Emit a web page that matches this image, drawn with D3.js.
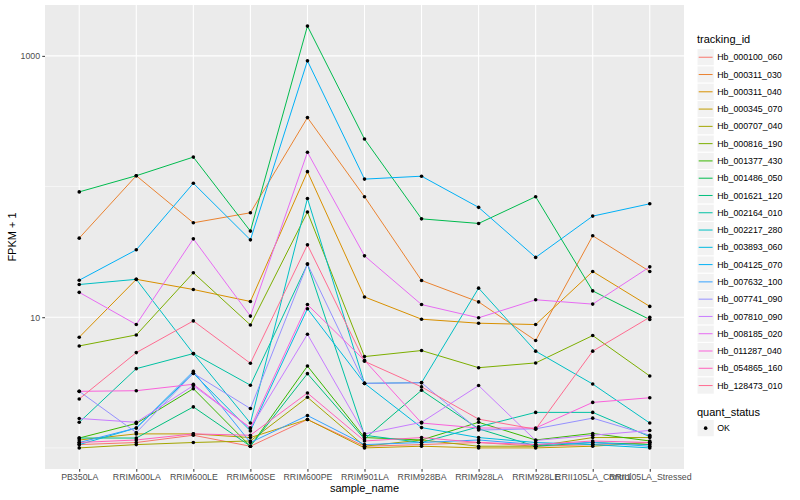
<!DOCTYPE html>
<html><head><meta charset="utf-8">
<script src="https://cdn.jsdelivr.net/npm/d3@7"></script>
<style>
body{margin:0;background:#fff}
text{font-family:"Liberation Sans",Arial,Helvetica,sans-serif}
</style>
</head><body>
<svg id="c" width="800" height="500"></svg>
<script>
// ---------- data ----------
const samples = ["PB350LA","RRIM600LA","RRIM600LE","RRIM600SE","RRIM600PE","RRIM901LA",
  "RRIM928BA","RRIM928LA","RRIM928LE","RRII105LA_Control","RRII105LA_Stressed"];
const trackingIds = ["Hb_000100_060","Hb_000311_030","Hb_000311_040","Hb_000345_070","Hb_000707_040",
  "Hb_000816_190","Hb_001377_430","Hb_001486_050","Hb_001621_120","Hb_002164_010","Hb_002217_280",
  "Hb_003893_060","Hb_004125_070","Hb_007632_100","Hb_007741_090","Hb_007810_090","Hb_008185_020",
  "Hb_011287_040","Hb_054865_160","Hb_128473_010"];
const quantStatus = ["OK"];
const yMajorTicks = [10, 1000];
const yMinorTicks = [1, 100];

// FPKM + 1 per sample, one array per tracking_id
const hb_000100_060 = [1.06, 1.10, 1.25, 1.03, 1.65, 1.03, 1.06, 1.10, 1.03, 1.06, 1.10];
const hb_000311_030 = [40.3, 121, 52.8, 63, 337, 83.6, 19.1, 13.1, 6.63, 42, 22.4];
const hb_000311_040 = [7.03, 19.5, 16.3, 13.2, 130, 14.3, 9.66, 9.0, 8.79, 22.4, 12.1];
const hb_000345_070 = [1.15, 1.28, 1.28, 1.20, 1.65, 1.00, 1.03, 1.00, 1.00, 1.03, 1.10];
const hb_000707_040 = [1.00, 1.06, 1.10, 1.13, 2.44, 1.03, 1.15, 1.03, 1.03, 1.20, 1.20];
const hb_000816_190 = [6.03, 7.32, 21.9, 8.73, 63.8, 5.0, 5.56, 4.11, 4.47, 7.24, 3.55];
const hb_001377_430 = [1.19, 1.54, 2.84, 1.03, 4.23, 1.20, 1.15, 1.57, 1.15, 1.29, 1.13];
const hb_001486_050 = [91, 121, 168, 45.6, 1690, 231, 56.6, 52.2, 83.6, 15.9, 9.6];
const hb_001621_120 = [1.19, 1.19, 2.06, 1.03, 3.70, 1.17, 2.76, 1.40, 1.03, 1.10, 1.06];
const hb_002164_010 = [1.57, 4.04, 5.27, 3.02, 25.5, 1.25, 1.10, 1.45, 1.87, 1.87, 1.22];
const hb_002217_280 = [17.8, 19.5, 5.27, 1.55, 81, 3.12, 3.16, 16.7, 5.5, 3.08, 1.55];
const hb_003893_060 = [1.06, 1.42, 3.72, 1.35, 11.6, 3.12, 1.43, 1.20, 1.10, 1.06, 1.00];
const hb_004125_070 = [19.2, 32.8, 106, 39.1, 916, 114, 120, 69.3, 28.7, 59.4, 73.8];
const hb_007632_100 = [1.10, 1.42, 3.85, 1.10, 1.77, 1.06, 1.10, 1.15, 1.06, 1.10, 1.03];
const hb_007741_090 = [2.71, 1.31, 3.72, 2.00, 25.5, 3.12, 3.15, 1.37, 1.40, 1.69, 1.25];
const hb_007810_090 = [1.68, 1.57, 3.00, 1.42, 7.41, 1.28, 1.57, 3.00, 1.14, 1.25, 1.36];
const hb_008185_020 = [15.5, 8.8, 39.8, 10.2, 183, 29.5, 12.5, 9.9, 13.6, 12.6, 24.3];
const hb_011287_040 = [2.71, 2.74, 3.07, 1.42, 12.5, 4.68, 1.55, 1.42, 1.42, 2.23, 2.42];
const hb_054865_160 = [1.10, 1.15, 1.28, 1.25, 2.63, 1.13, 1.20, 1.10, 1.06, 1.13, 1.10];
const hb_128473_010 = [2.37, 5.36, 9.37, 4.44, 35.8, 4.60, 2.93, 1.66, 1.39, 5.5, 10.0];

const seriesValues = [hb_000100_060, hb_000311_030, hb_000311_040, hb_000345_070, hb_000707_040,
  hb_000816_190, hb_001377_430, hb_001486_050, hb_001621_120, hb_002164_010, hb_002217_280,
  hb_003893_060, hb_004125_070, hb_007632_100, hb_007741_090, hb_007810_090, hb_008185_020,
  hb_011287_040, hb_054865_160, hb_128473_010];

// ggplot2 default hue palette for 20 groups
const palette = ["#F8766D","#EA8331","#D89000","#C09B00","#A3A500","#7CAE00","#39B600","#00BB4E",
  "#00BF7D","#00C1A3","#00BFC4","#00BAE0","#00B0F6","#35A2FF","#9590FF","#C77CFF","#E76BF3",
  "#FA62DB","#FF62BC","#FF6C91"];

// ---------- layout ----------
const svg = d3.select("#c");
const P = {l: 45, r: 684, t: 5, b: 469};

const all = seriesValues.flat();
const lo = Math.log10(d3.min(all)), hi = Math.log10(d3.max(all));
const pad = (hi - lo) * 0.05;
const y = d3.scaleLog().domain([Math.pow(10, lo - pad), Math.pow(10, hi + pad)]).range([P.b, P.t]);
const x = d3.scalePoint().domain(samples).range([P.l, P.r]).padding(0.6);
const color = d3.scaleOrdinal().domain(trackingIds).range(palette);

// panel
svg.append("rect").attr("x", P.l).attr("y", P.t).attr("width", P.r - P.l).attr("height", P.b - P.t)
  .attr("fill", "#EBEBEB");

const grid = svg.append("g");
grid.selectAll("line.ymin").data(yMinorTicks).join("line")
  .attr("x1", P.l).attr("x2", P.r).attr("y1", d => y(d)).attr("y2", d => y(d))
  .attr("stroke", "#fff").attr("stroke-width", 0.55);
grid.selectAll("line.ymaj").data(yMajorTicks).join("line")
  .attr("x1", P.l).attr("x2", P.r).attr("y1", d => y(d)).attr("y2", d => y(d))
  .attr("stroke", "#fff").attr("stroke-width", 1.07);
grid.selectAll("line.xmaj").data(samples).join("line")
  .attr("y1", P.t).attr("y2", P.b).attr("x1", d => x(d)).attr("x2", d => x(d))
  .attr("stroke", "#fff").attr("stroke-width", 1.07);

// lines
const line = d3.line().x((d, i) => x(samples[i])).y(d => y(d));
svg.append("g").selectAll("path").data(seriesValues).join("path")
  .attr("d", d => line(d)).attr("fill", "none")
  .attr("stroke", (d, i) => color(trackingIds[i])).attr("stroke-width", 1);

// points
const pts = [];
seriesValues.forEach((s, si) => s.forEach((v, i) => pts.push({s: samples[i], v})));
svg.append("g").selectAll("circle").data(pts).join("circle")
  .attr("cx", d => x(d.s)).attr("cy", d => y(d.v)).attr("r", 1.8).attr("fill", "#000");

// axes
function styleAxis(g) {
  g.select(".domain").remove();
  g.selectAll(".tick line").attr("stroke", "#333").attr("stroke-width", 1);
  g.selectAll(".tick text").attr("fill", "#4D4D4D").style("font-size", "8.8px");
}
svg.append("g").attr("transform", `translate(${P.l},0)`)
  .call(d3.axisLeft(y).tickValues(yMajorTicks).tickFormat(d3.format("d")).tickSize(2.75).tickPadding(2.2))
  .call(styleAxis);
svg.append("g").attr("transform", `translate(0,${P.b})`)
  .call(d3.axisBottom(x).tickSize(2.75).tickPadding(2.2))
  .call(styleAxis);

// axis titles
svg.append("text").attr("x", (P.l + P.r) / 2).attr("y", 492).attr("text-anchor", "middle")
  .style("font-size", "11px").attr("fill", "#000").text("sample_name");
svg.append("text").attr("transform", `translate(16,${(P.t + P.b) / 2}) rotate(-90)`)
  .attr("text-anchor", "middle").style("font-size", "11px").attr("fill", "#000").text("FPKM + 1");

// legend: tracking_id
const LX = 697, K = 17.28;
const leg = svg.append("g");
leg.append("text").attr("x", LX).attr("y", 43).style("font-size", "11px").text("tracking_id");
const items = leg.selectAll("g.item").data(trackingIds).join("g")
  .attr("transform", (d, i) => `translate(${LX},${48.6 + i * K})`);
items.append("rect").attr("width", K).attr("height", K).attr("fill", "#F2F2F2").attr("stroke", "#fff");
items.append("line").attr("x1", 1.7).attr("x2", K - 1.7).attr("y1", K / 2).attr("y2", K / 2)
  .attr("stroke", d => color(d)).attr("stroke-width", 1);
items.append("text").attr("x", K + 3).attr("y", K / 2).attr("dy", "0.35em")
  .style("font-size", "8.8px").text(d => d);

// legend: quant_status
leg.append("text").attr("x", LX).attr("y", 416).style("font-size", "11px").text("quant_status");
const q = leg.selectAll("g.q").data(quantStatus).join("g")
  .attr("transform", (d, i) => `translate(${LX},${419.5 + i * K})`);
q.append("rect").attr("width", K).attr("height", K).attr("fill", "#F2F2F2").attr("stroke", "#fff");
q.append("circle").attr("cx", K / 2).attr("cy", K / 2).attr("r", 1.8).attr("fill", "#000");
q.append("text").attr("x", K + 3).attr("y", K / 2).attr("dy", "0.35em")
  .style("font-size", "8.8px").text(d => d);
</script>
</body></html>
